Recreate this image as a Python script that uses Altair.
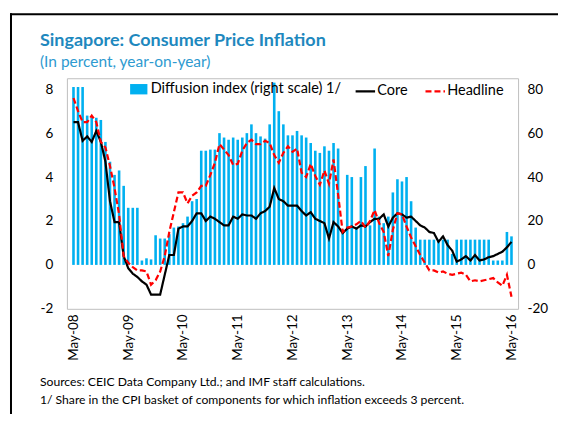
import altair as alt
import pandas as pd

# ---- data (monthly, May-08 .. May-16) ----
tick_labels = ["May-08", "May-09", "May-10", "May-11", "May-12",
               "May-13", "May-14", "May-15", "May-16"]

diffusion = [81, 81, 81, 68, 67, 67, 66, 56, 47, 41,
             43, 36, 26, 26, 26, 2, 3, 2.5, 13.5, 12,
             12, 14, 17, 17.5, 19, 22, 29, 30, 52, 52,
             52.5, 52.5, 60, 58, 57, 58, 57, 58, 60, 64,
             60, 58.5, 57.5, 64, 83, 70, 64, 59, 59, 61,
             59, 58, 55.5, 52, 51, 54, 52, 55.5, 53, 16,
             41, 40, 17, 40, 45, 18, 53, 22, 19, 22,
             33, 39, 38, 40, 29, 17, 11.5, 11.5, 11.5, 11.5,
             11.5, 11.5, 11.5, 5, 11.5, 11.5, 11.5, 11.5, 11.5, 11.5,
             11.5, 11.5, 2, 2, 2, 15, 13]

core = [6.5, 6.5, 5.65, 5.85, 5.6, 6.1, 5.6, 4.7, 2.9, 1.95,
        1.95, 0.4, -0.15, -0.4, -0.55, -0.75, -0.9, -1.35, -1.35, -1.35,
        -0.45, 0.45, 0.45, 1.65, 1.75, 1.75, 2.0, 2.35, 2.35, 2.0,
        2.2, 2.1, 1.95, 1.8, 1.8, 2.2, 2.1, 2.3, 2.25, 2.25,
        2.1, 2.35, 2.45, 2.65, 3.5, 3.0, 2.9, 2.7, 2.7, 2.7,
        2.45, 2.25, 2.4, 2.1, 2.0, 1.9, 1.2, 1.95, 1.75, 1.45,
        1.65, 1.75, 1.65, 1.8, 1.75, 1.95, 2.1, 2.1, 2.3, 1.75,
        2.15, 2.35, 2.3, 2.15, 2.2, 2.0, 1.8, 1.7, 1.5, 1.45,
        1.05, 1.3, 0.9, 0.65, 0.15, 0.25, 0.4, 0.2, 0.45, 0.2,
        0.25, 0.35, 0.4, 0.5, 0.6, 0.8, 1.05]

headline = [7.6, 7.0, 6.5, 6.5, 6.8, 6.5, 5.6, 5.35, 4.5, 3.5,
            2.3, 0.4, 0.1, -0.1, -0.25, -0.25, -0.3, -0.9, -0.7, -0.3,
            0.4, 1.5, 2.4, 3.3, 3.3, 2.8, 3.15, 3.3, 3.6, 3.6,
            4.1, 4.65, 5.5, 5.25, 5.0, 4.55, 4.6, 5.2, 5.55, 5.7,
            5.5, 5.5, 5.65, 5.55, 5.0, 4.65, 5.1, 5.4, 5.15, 5.3,
            4.2, 4.0, 4.6, 4.05, 3.65, 4.3, 3.7, 4.8, 3.2, 1.5,
            1.7, 1.75, 1.85, 2.0, 1.7, 2.0, 2.5, 1.9, 1.5, 0.4,
            1.6, 2.35, 2.3, 1.75, 1.25, 0.85, 0.45, 0.1, -0.25, -0.25,
            -0.35, -0.3, -0.4, -0.45, -0.4, -0.35, -0.45, -0.75, -0.7, -0.75,
            -0.7, -0.65, -0.6, -0.8, -0.95, -0.45, -1.45]

bar_name = "Diffusion index (right scale) 1/"
line_names = ["Core", "Headline"]
title_text = "Singapore: Consumer Price Inflation"
subtitle_text = "(In percent, year-on-year)"
notes = ["Sources: CEIC Data Company Ltd.; and IMF staff calculations.",
         "1/ Share in the CPI basket of components for which inflation exceeds 3 percent."]

n = len(diffusion)
df = pd.DataFrame({"m": list(range(n)), "diffusion": diffusion, "s": [bar_name] * n})
lines_df = pd.concat([
    pd.DataFrame({"m": list(range(n)), "v": core, "series": "Core"}),
    pd.DataFrame({"m": list(range(n)), "v": headline, "series": "Headline"}),
], ignore_index=True)

FONT = "Lato"
W, H = 452, 231
label_expr = "[" + ",".join("'%s'" % t for t in tick_labels) + "][round(datum.value/12)]"
minus_expr = "replace(datum.label, '\u2212', '-')"

xscale = alt.Scale(domain=[-0.35, 96.35], nice=False, zero=False)
xaxis = alt.Axis(values=[0, 12, 24, 36, 48, 60, 72, 84, 96], labelExpr=label_expr,
                 labelAngle=270, grid=False, ticks=False, domain=False,
                 labelPadding=5, labelFontSize=13.5, labelColor="#000000",
                 title=None)

bars = alt.Chart(df).mark_bar(size=2.6).encode(
    x=alt.X("m:Q", scale=xscale, axis=xaxis),
    y=alt.Y("diffusion:Q", scale=alt.Scale(domain=[-20, 85], nice=False, zero=False),
            axis=alt.Axis(orient="right", values=[-20, 0, 20, 40, 60, 80], grid=False,
                          ticks=False, domain=False, labelPadding=9, labelFontSize=13.5,
                          labelExpr=minus_expr, labelColor="#000000", title=None)),
    color=alt.Color("s:N", scale=alt.Scale(domain=[bar_name], range=["#00B0F0"]),
                    legend=alt.Legend(orient="none", legendX=63, legendY=2, title=None,
                                      direction="horizontal", labelFontSize=14.5,
                                      labelLimit=400, labelOffset=3, padding=0,
                                      symbolType="M-1,-0.6H1V0.6H-1Z", symbolSize=300,
                                      symbolStrokeWidth=0, labelColor="#000000")),
)

line_legend = alt.Legend(orient="none", legendX=288, legendY=2, title=None,
                         direction="horizontal", labelFontSize=14.5, labelOffset=1,
                         padding=0, columnPadding=12, symbolType="stroke",
                         symbolSize=380, symbolStrokeWidth=2.2, labelColor="#000000")

lines = alt.Chart(lines_df).mark_line(strokeWidth=2.2).encode(
    x=alt.X("m:Q", scale=xscale, axis=xaxis),
    y=alt.Y("v:Q", scale=alt.Scale(domain=[-2, 8.5], nice=False, zero=False),
            axis=alt.Axis(orient="left", values=[-2, 0, 2, 4, 6, 8], grid=False,
                          ticks=False, domain=False, labelPadding=14, labelFontSize=13.5,
                          labelExpr=minus_expr, labelColor="#000000", title=None)),
    color=alt.Color("series:N", scale=alt.Scale(domain=line_names, range=["#000000", "#FF0000"]),
                    legend=line_legend),
    strokeDash=alt.StrokeDash("series:N", scale=alt.Scale(domain=line_names, range=[[1, 0], [6, 3]]),
                              legend=line_legend),
)

one = pd.DataFrame({"k": [0]})
frame_top = alt.Chart(one).mark_rule(color="#000000", strokeWidth=2).encode(
    x=alt.value(-57), x2=alt.value(W + 45), y=alt.value(-64))
frame_left = alt.Chart(one).mark_rule(color="#000000", strokeWidth=2).encode(
    x=alt.value(-56), y=alt.value(-65), y2=alt.value(H + 120))

title = alt.Chart(pd.DataFrame({"t": [title_text]})).mark_text(
    align="left", baseline="alphabetic", font=FONT, fontSize=18, fontWeight="bold",
    color="#1E88BE").encode(x=alt.value(-27), y=alt.value(-32), text="t:N")
subtitle = alt.Chart(pd.DataFrame({"t": [subtitle_text]})).mark_text(
    align="left", baseline="alphabetic", font=FONT, fontSize=15.5,
    color="#2E9AD0").encode(x=alt.value(-27), y=alt.value(-11), text="t:N")
note1 = alt.Chart(pd.DataFrame({"t": [notes[0]]})).mark_text(
    align="left", baseline="alphabetic", font=FONT, fontSize=12.2,
    color="#000000").encode(x=alt.value(-27), y=alt.value(308), text="t:N")
note2 = alt.Chart(pd.DataFrame({"t": [notes[1]]})).mark_text(
    align="left", baseline="alphabetic", font=FONT, fontSize=12.2,
    color="#000000").encode(x=alt.value(-27), y=alt.value(326), text="t:N")

chart = alt.layer(bars, lines, frame_top, frame_left, title, subtitle, note1, note2).resolve_scale(
    y="independent", color="independent", strokeDash="independent"
).properties(
    width=W, height=H,
    padding={"left": 59, "top": 70, "right": 40, "bottom": 105},
    autosize=alt.AutoSizeParams(type="none"),
    background="#ffffff",
).configure(font=FONT).configure_view(stroke="#BFBFBF", strokeWidth=1)

chart.save("out.html", embed_options={"renderer": "svg", "actions": False})
